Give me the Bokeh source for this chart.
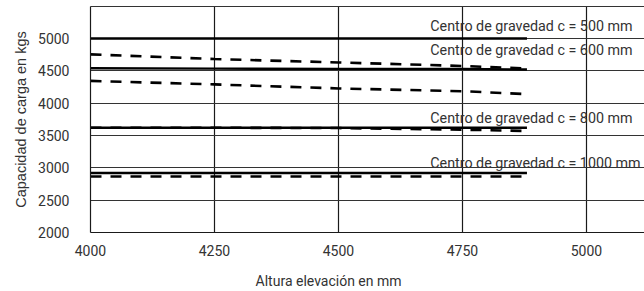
from bokeh.plotting import figure
from bokeh.models import FixedTicker, LinearAxis, ColumnDataSource
from bokeh.core.properties import value
from bokeh.embed import file_html
from bokeh.resources import INLINE

# ---- data ----
heights = [4000, 4250, 4500, 4750, 4880]          # Altura elevación (mm)
solid_500 = [5000, 5000, 5000, 5000, 5000]
solid_600 = [4540, 4535, 4530, 4530, 4520]
dashed_a = [4755, 4682, 4630, 4575, 4535]
dashed_b = [4345, 4290, 4228, 4185, 4140]
solid_800 = [3620, 3620, 3620, 3620, 3620]
dashed_800 = [3620, 3620, 3615, 3590, 3570]
solid_1000 = [2920, 2920, 2920, 2920, 2920]
dashed_1000 = [2865, 2865, 2865, 2865, 2865]

x_ticks = [4000, 4250, 4500, 4750, 5000]
y_ticks = [2000, 2500, 3000, 3500, 4000, 4500, 5000]

label_texts = ["Centro de gravedad c = 500 mm", "Centro de gravedad c = 600 mm",
               "Centro de gravedad c = 800 mm", "Centro de gravedad c = 1000 mm"]
label_x = [4685, 4685, 4685, 4685]
label_y = [5200, 4815, 3769, 3082]

x_title = "Altura elevación en mm"
y_title = "Capacidad de carga en kgs"

FONT = "Roboto"
INK = "#1a1a1a"
TXT = "#333333"
X_TITLE_AT = 4480   # horizontal anchor of the x title (layout)

p = figure(width=636, height=285, output_backend="svg", toolbar_location=None,
           x_range=(4000, 5117), y_range=(2000, 5495),
           min_border_left=82, min_border_right=0, min_border_top=0, min_border_bottom=58)
p.outline_line_color = None
p.background_fill_color = "white"
p.border_fill_color = "white"
p.styles = {"margin-left": "8px", "margin-top": "6px"}

for ax in (p.xaxis[0], p.yaxis[0]):
    ax.major_tick_line_color = None
    ax.minor_tick_line_color = None
    ax.axis_line_color = INK
    ax.axis_line_width = 1.2
    ax.major_label_text_font = FONT
    ax.major_label_text_font_size = "14px"
    ax.major_label_text_color = TXT

p.xaxis.ticker = FixedTicker(ticks=x_ticks)
p.yaxis.ticker = FixedTicker(ticks=y_ticks)
p.xaxis.major_label_standoff = 6
p.yaxis.major_label_standoff = 15

p.yaxis.axis_label = y_title
p.yaxis.axis_label_text_font = "Liberation Sans"
p.yaxis.axis_label_text_font_style = "normal"
p.yaxis.axis_label_text_font_size = "14.5px"
p.yaxis.axis_label_text_color = TXT
p.yaxis.axis_label_standoff = 6

# x title carried by a second, line-less axis below
title_axis = LinearAxis(ticker=FixedTicker(ticks=[X_TITLE_AT]),
                        major_label_overrides={X_TITLE_AT: x_title})
title_axis.axis_line_color = None
title_axis.major_tick_line_color = None
title_axis.minor_tick_line_color = None
title_axis.major_label_text_font = FONT
title_axis.major_label_text_font_size = "14px"
title_axis.major_label_text_color = TXT
title_axis.major_label_standoff = 8
p.add_layout(title_axis, "below")

# top border line: tickless axis above the frame
top_axis = LinearAxis(ticker=FixedTicker(ticks=[]))
top_axis.axis_line_color = "#333333"
top_axis.axis_line_width = 1.2
top_axis.major_tick_line_color = None
top_axis.minor_tick_line_color = None
top_axis.major_label_text_font_size = "0px"
top_axis.major_label_standoff = 0
p.add_layout(top_axis, "above")

p.xgrid.ticker = FixedTicker(ticks=x_ticks)
p.ygrid.ticker = FixedTicker(ticks=y_ticks)
p.xgrid.grid_line_color = INK
p.ygrid.grid_line_color = TXT
p.xgrid.grid_line_width = 1.2
p.ygrid.grid_line_width = 1.2

# solid lines
for ys in (solid_500, solid_600, solid_800, solid_1000):
    p.line(heights, ys, line_color="black", line_width=2.4)
# dashed lines
for ys in (dashed_a, dashed_b, dashed_800, dashed_1000):
    p.line(heights, ys, line_color="black", line_width=2.6, line_dash="11 9")

src = ColumnDataSource(dict(x=label_x, y=label_y, t=label_texts))
p.text(x="x", y="y", text="t", source=src, text_font=value(FONT), text_font_size="14.3px",
       text_color=TXT, text_align="left", text_baseline="middle")

open("out.html", "w").write(file_html(p, INLINE))
